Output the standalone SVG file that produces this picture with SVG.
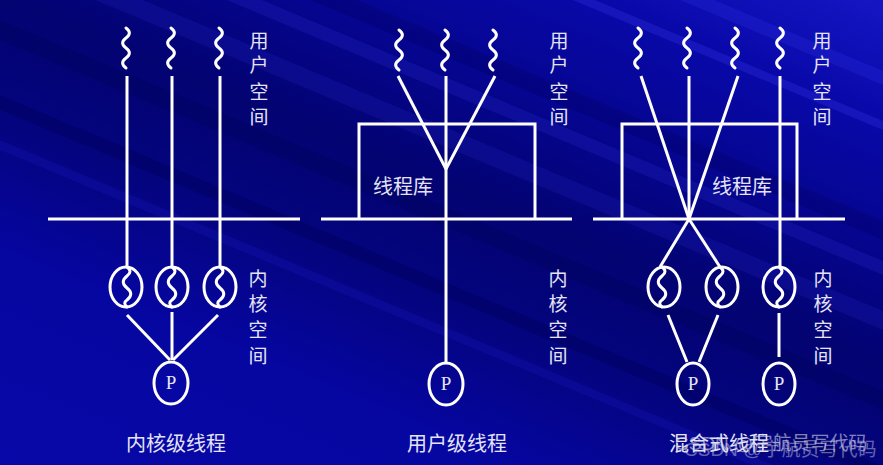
<svg xmlns="http://www.w3.org/2000/svg" xmlns:xlink="http://www.w3.org/1999/xlink" width="883" height="465" viewBox="0 0 883 465">
<defs>
<linearGradient id="bg" gradientUnits="userSpaceOnUse" x1="883" y1="0" x2="585" y2="711">
<stop offset="0" stop-color="#1616c4"/>
<stop offset="0.14" stop-color="#0909aa"/>
<stop offset="0.3" stop-color="#05058e"/>
<stop offset="0.44" stop-color="#030372"/>
<stop offset="0.58" stop-color="#04047e"/>
<stop offset="0.74" stop-color="#0606a0"/>
<stop offset="1" stop-color="#0808a8"/>
</linearGradient>
<path id="sq" d="M0,0 c4.5,3.3 4.5,6.7 0,10 c-4.5,3.3 -4.5,6.7 0,10 c4.5,3.3 4.5,6.7 0,10 c-4.5,3.3 -4.5,6.7 0,10"/>
<path id="ksq" d="M0,0 c4,3 4,6 0,9 c-5,4 -5,8 0,12 c5,4 5,8 0,12 c-3,2 -3,4 0,7"/>
</defs>
<style>
.ln{stroke:#ffffff;stroke-width:3;fill:none}
.th{stroke:#ffffff;stroke-width:3;fill:none;stroke-linecap:round}
.el{stroke:#ffffff;stroke-width:3;fill:none}
.lbl{font-family:"Noto Sans CJK SC","Noto Sans",sans-serif;font-size:19px;fill:#e4e4f6;text-anchor:middle}
.cap{font-family:"Noto Sans CJK SC","Noto Sans",sans-serif;font-size:20px;fill:#e4e4f6;text-anchor:middle}
.p{font-family:"Liberation Serif",serif;font-size:19px;fill:#e4e4f6;text-anchor:middle}
.wm{font-family:"Liberation Sans","Noto Sans CJK SC",sans-serif;font-size:19px;fill:#d8d8e8}
</style>
<g id="background">
<rect width="883" height="465" fill="url(#bg)"/>
<polygon points="0,20 883,391 883,410 0,40" fill="#000050" opacity="0.25"/>
<polygon points="0,95 883,466 883,480 0,110" fill="#000050" opacity="0.3"/>
<polygon points="0,140 883,511 883,520 0,150" fill="#2020d0" opacity="0.2"/>
<polygon points="0,-150 883,221 883,240 0,-130" fill="#000060" opacity="0.3"/>
<polygon points="0,-110 883,261 883,275 0,-95" fill="#3030e0" opacity="0.2"/>
<polygon points="0,-250 883,121 883,130 0,-240" fill="#3535e8" opacity="0.3"/>
<polygon points="0,-300 883,71 883,85 0,-285" fill="#3535e8" opacity="0.25"/>
<polygon points="0,-60 883,311 883,330 0,-40" fill="#2a2ad8" opacity="0.18"/>
</g>

<g id="connectors">
<line class="ln" x1="48" y1="219" x2="300" y2="219"/>
<line class="ln" x1="127" y1="76" x2="127" y2="267"/>
<line class="ln" x1="172" y1="76" x2="172" y2="267"/>
<line class="ln" x1="220" y1="76" x2="220" y2="267"/>
<line class="ln" x1="127" y1="315" x2="170" y2="360"/>
<line class="ln" x1="172" y1="312" x2="172" y2="360"/>
<line class="ln" x1="218" y1="315" x2="173" y2="360"/>
<line class="ln" x1="321" y1="219" x2="572" y2="219"/>
<line class="ln" x1="398" y1="76" x2="446" y2="169"/>
<line class="ln" x1="495" y1="76" x2="446" y2="169"/>
<line class="ln" x1="446" y1="76" x2="446" y2="363"/>
<line class="ln" x1="593" y1="219" x2="845" y2="219"/>
<line class="ln" x1="641" y1="76" x2="689" y2="219"/>
<line class="ln" x1="689" y1="76" x2="689" y2="219"/>
<line class="ln" x1="738" y1="76" x2="689" y2="219"/>
<line class="ln" x1="689" y1="219" x2="660" y2="267"/>
<line class="ln" x1="689" y1="219" x2="720" y2="267"/>
<line class="ln" x1="780" y1="76" x2="780" y2="267"/>
<line class="ln" x1="668" y1="315" x2="687" y2="362"/>
<line class="ln" x1="718" y1="315" x2="699" y2="362"/>
<line class="ln" x1="779" y1="313" x2="779" y2="357"/>
</g>

<g id="k-user-threads">
<use xlink:href="#sq" href="#sq" class="th" x="126" y="28"/>
<use xlink:href="#sq" href="#sq" class="th" x="171" y="28"/>
<use xlink:href="#sq" href="#sq" class="th" x="219" y="28"/>
</g>
<g id="k-kthread-1"><ellipse class="el" cx="126" cy="287" rx="16" ry="20"/><use xlink:href="#ksq" href="#ksq" class="th" x="127" y="267"/></g>
<g id="k-kthread-2"><ellipse class="el" cx="172" cy="287" rx="16" ry="20"/><use xlink:href="#ksq" href="#ksq" class="th" x="172" y="267"/></g>
<g id="k-kthread-3"><ellipse class="el" cx="220" cy="287" rx="16" ry="20"/><use xlink:href="#ksq" href="#ksq" class="th" x="220" y="267"/></g>
<g id="k-process"><ellipse class="el" cx="171" cy="383" rx="17" ry="21"/><text class="p" x="171" y="389">P</text></g>
<g id="k-labels">
<text class="lbl" x="259" y="48">用</text><text class="lbl" x="259" y="72">户</text><text class="lbl" x="259" y="99">空</text><text class="lbl" x="259" y="124">间</text>
<text class="lbl" x="258" y="286">内</text><text class="lbl" x="258" y="311">核</text><text class="lbl" x="258" y="337">空</text><text class="lbl" x="258" y="363">间</text>
<text class="cap" x="176" y="451">内核级线程</text>
</g>

<g id="u-user-threads">
<use xlink:href="#sq" href="#sq" class="th" x="399" y="30"/>
<use xlink:href="#sq" href="#sq" class="th" x="445" y="30"/>
<use xlink:href="#sq" href="#sq" class="th" x="493" y="30"/>
</g>
<g id="u-library"><polyline class="ln" points="359,219 359,124 535,124 535,219"/><text class="cap" x="403" y="194">线程库</text></g>
<g id="u-process"><ellipse class="el" cx="446" cy="384" rx="17" ry="21"/><text class="p" x="446" y="390">P</text></g>
<g id="u-labels">
<text class="lbl" x="559" y="48">用</text><text class="lbl" x="559" y="72">户</text><text class="lbl" x="559" y="99">空</text><text class="lbl" x="559" y="124">间</text>
<text class="lbl" x="558" y="286">内</text><text class="lbl" x="558" y="311">核</text><text class="lbl" x="558" y="337">空</text><text class="lbl" x="558" y="363">间</text>
<text class="cap" x="457" y="451">用户级线程</text>
</g>

<g id="h-user-threads">
<use xlink:href="#sq" href="#sq" class="th" x="638" y="28"/>
<use xlink:href="#sq" href="#sq" class="th" x="687" y="28"/>
<use xlink:href="#sq" href="#sq" class="th" x="735" y="28"/>
<use xlink:href="#sq" href="#sq" class="th" x="780" y="28"/>
</g>
<g id="h-library"><polyline class="ln" points="622,219 622,124 797,124 797,219"/><text class="cap" x="742" y="194">线程库</text></g>
<g id="h-kthread-1"><ellipse class="el" cx="664" cy="287" rx="16" ry="20"/><use xlink:href="#ksq" href="#ksq" class="th" x="662" y="267"/></g>
<g id="h-kthread-2"><ellipse class="el" cx="722" cy="287" rx="16" ry="20"/><use xlink:href="#ksq" href="#ksq" class="th" x="720" y="267"/></g>
<g id="h-kthread-3"><ellipse class="el" cx="779" cy="287" rx="16" ry="20"/><use xlink:href="#ksq" href="#ksq" class="th" x="779" y="267"/></g>
<g id="h-process-1"><ellipse class="el" cx="693" cy="384" rx="16" ry="21"/><text class="p" x="693" y="390">P</text></g>
<g id="h-process-2"><ellipse class="el" cx="779" cy="384" rx="16" ry="21"/><text class="p" x="779" y="390">P</text></g>
<g id="h-labels">
<text class="lbl" x="822" y="48">用</text><text class="lbl" x="822" y="72">户</text><text class="lbl" x="822" y="99">空</text><text class="lbl" x="822" y="124">间</text>
<text class="lbl" x="823" y="286">内</text><text class="lbl" x="823" y="311">核</text><text class="lbl" x="823" y="337">空</text><text class="lbl" x="823" y="363">间</text>
<text class="cap" x="719" y="451">混合式线程</text>
</g>

<g id="watermark">
<text class="wm" x="675" y="450" opacity="0.6">CSDN @宇航员写代码</text>
<text class="wm" x="684" y="456" opacity="0.45">CSDN @宇航员写代码</text>
</g>
</svg>
